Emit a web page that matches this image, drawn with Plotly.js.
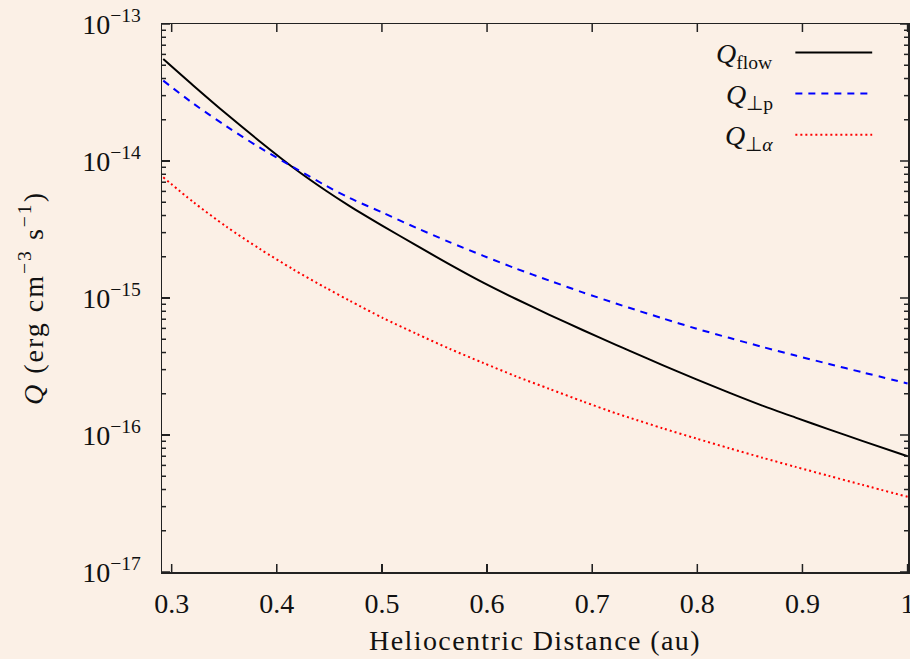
<!DOCTYPE html>
<html>
<head>
<meta charset="utf-8">
<script src="https://cdn.plot.ly/plotly-3.0.1.min.js"></script>
<style>
  html, body { margin: 0; padding: 0; background: #fbf0e6; }
  #chart { width: 910px; height: 659px; }
  .xtitle { letter-spacing: 1.4px; }
  .ytitle { letter-spacing: 2px; }
</style>
</head>
<body>
<div id="chart"></div>
<script>
// Heliocentric distance (au)
const distance = [0.2920, 0.3205, 0.3522, 0.3839, 0.4155, 0.4472, 0.4693, 0.5010, 0.5327, 0.5643, 0.5959, 0.6276,
                  0.6593, 0.6909, 0.7226, 0.7352, 0.7669, 0.7986, 0.8302, 0.8618, 0.8935, 0.9252, 0.9568, 1.0000];
// Q_flow (erg cm^-3 s^-1)
const qFlow = [5.55e-14, 3.56e-14, 2.20e-14, 1.39e-14, 8.97e-15, 6.04e-15, 4.69e-15, 3.35e-15, 2.42e-15, 1.76e-15, 1.30e-15, 9.83e-16,
               7.54e-16, 5.84e-16, 4.55e-16, 4.13e-16, 3.24e-16, 2.56e-16, 2.04e-16, 1.64e-16, 1.34e-16, 1.10e-16, 9.06e-17, 6.99e-17];
// Q_perp,p
const qPerpP = [3.86e-14, 2.63e-14, 1.79e-14, 1.25e-14, 9.04e-15, 6.57e-15, 5.37e-15, 4.19e-15, 3.25e-15, 2.56e-15, 2.04e-15, 1.64e-15,
                1.34e-15, 1.10e-15, 9.12e-16, 8.48e-16, 7.11e-16, 5.99e-16, 5.12e-16, 4.40e-16, 3.80e-16, 3.30e-16, 2.87e-16, 2.38e-16];
// Q_perp,alpha
const qPerpA = [7.60e-15, 5.02e-15, 3.31e-15, 2.28e-15, 1.62e-15, 1.18e-15, 9.56e-16, 7.14e-16, 5.49e-16, 4.26e-16, 3.37e-16, 2.68e-16,
                2.17e-16, 1.76e-16, 1.44e-16, 1.34e-16, 1.12e-16, 9.45e-17, 8.01e-17, 6.83e-17, 5.85e-17, 5.03e-17, 4.33e-17, 3.54e-17];

// axis ticks and labels
const xTickVals = [0.3, 0.4, 0.5, 0.6, 0.7, 0.8, 0.9, 1.0];
const yTickVals = [1e-17, 1e-16, 1e-15, 1e-14, 1e-13];
const yTickText = ["10<sup>−17</sup>", "10<sup>−16</sup>", "10<sup>−15</sup>", "10<sup>−14</sup>", "10<sup>−13</sup>"];
const yMinorMantissas = [2, 3, 4, 5, 6, 7, 8, 9];

const seriesNames = ["<i>Q</i><sub>flow</sub>", "<i>Q</i><sub>⊥p</sub>", "<i>Q</i><sub>⊥<i>α</i></sub>"];
const seriesValues = [qFlow, qPerpP, qPerpA];
const seriesColors = ["#000000", "#0000ff", "#ff0000"];
const seriesDash = ["solid", "7px,6px", "2px,3px"];

const fontFamily = "'Liberation Serif', 'Times New Roman', serif";
const bg = "#fbf0e6";
const ink = "#111111";
const axisColor = "#222222";
const yRange = [-17, -13];
const xRange = [0.2908, 1.0004];

const W = 910, H = 659;
const margin = { l: 162, r: 2, t: 24, b: 87 };
const plotW = W - margin.l - margin.r;
const plotH = H - margin.t - margin.b;

const traces = seriesValues.map((vals, i) => ({
  x: distance,
  y: vals,
  type: "scatter",
  mode: "lines",
  name: seriesNames[i],
  line: { color: seriesColors[i], width: 2, dash: seriesDash[i], shape: "spline", smoothing: 0.8 },
  showlegend: false,
  hoverinfo: "x+y"
}));

const annotations = [];
const shapes = [];

// inside tick marks on all four sides (gnuplot style)
function yFrac(v) { return (Math.log10(v) - yRange[0]) / (yRange[1] - yRange[0]); }
function xFrac(v) { return (v - xRange[0]) / (xRange[1] - xRange[0]); }
function yTick(v, lenPx) {
  const f = yFrac(v), d = lenPx / plotW;
  shapes.push({ type: "line", xref: "paper", yref: "paper", x0: 0, x1: d, y0: f, y1: f,
                line: { color: axisColor, width: 1.5 } });
  shapes.push({ type: "line", xref: "paper", yref: "paper", x0: 1 - d, x1: 1, y0: f, y1: f,
                line: { color: axisColor, width: 1.5 } });
}
yTickVals.forEach(v => yTick(v, 8));
for (let i = 0; i < yTickVals.length - 1; i++) {
  yMinorMantissas.forEach(m => yTick(m * yTickVals[i], 4));
}
xTickVals.forEach(v => {
  const f = xFrac(v), d = 8 / plotH;
  shapes.push({ type: "line", xref: "paper", yref: "paper", x0: f, x1: f, y0: 0, y1: d,
                line: { color: axisColor, width: 1.5 } });
  shapes.push({ type: "line", xref: "paper", yref: "paper", x0: f, x1: f, y0: 1 - d, y1: 1,
                line: { color: axisColor, width: 1.5 } });
});

// gnuplot-style key: right-aligned text, sample on the right
const legendRowsY = [0.948, 0.873, 0.798];
seriesNames.forEach((nm, i) => {
  annotations.push({
    xref: "paper", yref: "paper",
    x: 0.822, y: legendRowsY[i] - 0.006,
    xanchor: "right", yanchor: "middle",
    text: nm, showarrow: false,
    font: { family: fontFamily, size: 28, color: ink }
  });
  shapes.push({
    type: "line", xref: "paper", yref: "paper",
    x0: 0.849, x1: 0.952, y0: legendRowsY[i], y1: legendRowsY[i],
    line: { color: seriesColors[i], width: 2, dash: seriesDash[i] }
  });
});

const layout = {
  width: W, height: H,
  paper_bgcolor: bg, plot_bgcolor: bg,
  margin: margin,
  font: { family: fontFamily, size: 28, color: ink },
  showlegend: false,
  xaxis: {
    range: xRange,
    tickmode: "array", tickvals: xTickVals,
    ticks: "inside", ticklen: 8, tickwidth: 1.2, tickcolor: axisColor,
    showline: true, linecolor: axisColor, linewidth: 1.5, mirror: true,
    showgrid: false, zeroline: false,
    ticklabeloverflow: "allow",
    ticklabelstandoff: 6,
    title: { text: "Heliocentric Distance (au)", font: { family: fontFamily, size: 28, color: ink }, standoff: 12 }
  },
  yaxis: {
    type: "log",
    range: yRange,
    tickmode: "array", tickvals: yTickVals, ticktext: yTickText,
    ticks: "inside", ticklen: 8, tickwidth: 1.2, tickcolor: axisColor,
    showline: true, linecolor: axisColor, linewidth: 1.5, mirror: true,
    showgrid: false, zeroline: false,
    ticklabeloverflow: "allow",
    ticklabelstandoff: 14,
    title: { text: "<i>Q</i> (erg cm<sup>−3</sup> s<sup>−1</sup>)", font: { family: fontFamily, size: 28, color: ink }, standoff: 30 }
  },
  annotations: annotations,
  shapes: shapes
};

Plotly.newPlot("chart", traces, layout, { displayModeBar: false, staticPlot: true });
</script>
</body>
</html>
